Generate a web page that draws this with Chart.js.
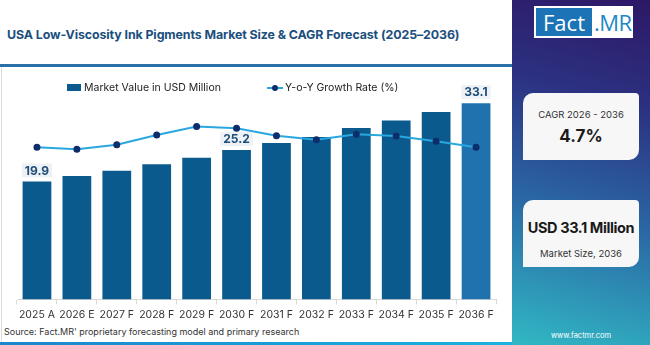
<!DOCTYPE html>
<html>
<head>
<meta charset="utf-8">
<script src="https://cdn.jsdelivr.net/npm/chart.js@4.4.1/dist/chart.umd.min.js"></script>
<style>
  body { margin: 0; width: 650px; height: 345px; overflow: hidden; background: #fff; font-family: Inter, "Open Sans", sans-serif; position: relative; }
  .title { position: absolute; left: 7px; top: 27px; font-size: 12.4px; font-weight: 700; color: #1b4f7e; letter-spacing: -0.1px; white-space: nowrap; }
  .rule { position: absolute; left: 0; top: 64px; width: 512px; height: 3px; background: #2a6fa8; }
  .frame { position: absolute; left: 1px; top: 67px; width: 510px; height: 275px; border-left: 1px solid #dcdcdc; }
  .bottom { position: absolute; left: 0; top: 342px; width: 512px; height: 3px; background: linear-gradient(90deg, #1b86cc, #1bb3dc); }
  #wrap { position: absolute; left: 0; top: 70px; width: 512px; height: 255px; }
  .legend { position: absolute; top: 81px; font-size: 10.5px; color: #222; display: flex; align-items: center; }
  .legend .box { width: 14px; height: 7px; background: #0b5a8e; margin-right: 3px; }
  .legend .ln { width: 16px; height: 2px; background: #29a8e0; margin-right: 2px; position: relative; }
  .legend .ln::after { content: ""; position: absolute; left: 5px; top: -2px; width: 6px; height: 6px; border-radius: 50%; background: #0d2d6b; }
  .source { position: absolute; left: 4px; top: 326px; font-size: 9px; color: #333; }
  .side { position: absolute; left: 512px; top: 0; width: 138px; height: 345px; background: linear-gradient(195deg, #2d1866 0%, #2c3080 28%, #2a66a4 60%, #31b8c4 100%); }
  .logo { position: absolute; left: 22px; top: 6px; width: 99px; height: 32px; background: #fff; }
  .logo .f { position: absolute; left: 2px; top: 2px; width: 56px; height: 28px; background: #1c74b6; color: #fff; font-size: 22px; line-height: 28px; text-align: center; font-family: "Open Sans", sans-serif; }
  .logo .m { position: absolute; left: 60px; top: 2px; height: 28px; color: #1e88c8; font-size: 22px; line-height: 28px; font-family: "Open Sans", sans-serif; letter-spacing: -0.5px; }
  .card { position: absolute; left: 11px; width: 116px; background: #f7f7f8; border-radius: 10px 4px 10px 0; text-align: center; color: #222; white-space: nowrap; }
  .c1 { top: 93px; height: 67px; }
  .c2 { top: 200px; height: 67px; }
  .small { font-size: 9.5px; color: #333; }
  .big { font-weight: 700; color: #1a1a1a; }
  .www { position: absolute; left: 0; width: 138px; top: 331px; text-align: center; font-size: 7.5px; color: #fff; }
</style>
</head>
<body>
<div class="title">USA Low-Viscosity Ink Pigments Market Size &amp; CAGR Forecast (2025–2036)</div>
<div class="rule"></div>
<div class="frame"></div>
<div id="wrap"><canvas id="chart"></canvas></div>
<div class="legend" style="left:67px"><span class="box"></span>Market Value in USD Million</div>
<div class="legend" style="left:267px"><span class="ln"></span>Y-o-Y Growth Rate (%)</div>
<div class="source">Source: Fact.MR' proprietary forecasting model and primary research</div>
<div class="bottom"></div>
<div class="side">
  <div class="logo"><div class="f">Fact</div><div class="m">.MR</div></div>
  <div class="card c1">
    <div class="small" style="margin-top:16px">CAGR 2026 - 2036</div>
    <div class="big" style="font-size:17px;margin-top:6px">4.7%</div>
  </div>
  <div class="card c2">
    <div class="big" style="font-size:14.5px;margin-top:19px;letter-spacing:-0.4px">USD 33.1 Million</div>
    <div class="small" style="margin-top:12px">Market Size, 2036</div>
  </div>
  <div class="www">www.factmr.com</div>
</div>

<script>
    // Data
    const years = ['2025 A', '2026 E', '2027 F', '2028 F', '2029 F', '2030 F', '2031 F', '2032 F', '2033 F', '2034 F', '2035 F', '2036 F'];
    const marketValue = [19.9, 20.8, 21.7, 22.8, 23.9, 25.2, 26.4, 27.4, 28.9, 30.2, 31.6, 33.1];
    const growthRate = [4.2, 4.12, 4.29, 4.67, 5.0, 4.93, 4.64, 4.49, 4.7, 4.63, 4.43, 4.2];
    const labelledBars = [0, 5, 11];

    const barColors = marketValue.map((v, i) => i === marketValue.length - 1 ? '#1f72ae' : '#0b5a8e');

    // value tags above selected bars
    const barTags = {
        id: 'barTags',
        afterDatasetsDraw(chart) {
            const ctx = chart.ctx;
            const meta = chart.getDatasetMeta(1);
            ctx.save();
            ctx.font = 'bold 12px Inter, sans-serif';
            ctx.textAlign = 'center';
            ctx.textBaseline = 'middle';
            labelledBars.forEach(i => {
                const bar = meta.data[i];
                const txt = marketValue[i].toFixed(1);
                const w = ctx.measureText(txt).width + 6;
                const cy = bar.y - 11;
                ctx.fillStyle = '#eef1f5';
                ctx.fillRect(bar.x - w / 2, cy - 7, w, 14);
                ctx.fillStyle = '#1f4e79';
                ctx.fillText(txt, bar.x, cy + 0.5);
            });
            ctx.restore();
        }
    };

    const ctx = document.getElementById('chart').getContext('2d');
    new Chart(ctx, {
        data: {
            labels: years,
            datasets: [{
                type: 'line',
                label: 'Y-o-Y Growth Rate (%)',
                data: growthRate,
                yAxisID: 'y1',
                borderColor: '#29a8e0',
                borderWidth: 2,
                pointBackgroundColor: '#0d2d6b',
                pointBorderColor: '#0d2d6b',
                pointRadius: 2.5,
                tension: 0,
                order: 0
            }, {
                type: 'bar',
                label: 'Market Value in USD Million',
                data: marketValue,
                yAxisID: 'y',
                backgroundColor: barColors,
                barPercentage: 0.72,
                categoryPercentage: 1,
                order: 1
            }]
        },
        options: {
            responsive: true,
            maintainAspectRatio: false,
            animation: false,
            layout: { padding: { left: 17, right: 16, top: 16, bottom: 0 } },
            plugins: { legend: { display: false }, tooltip: { enabled: false } },
            scales: {
                x: {
                    grid: { display: true, drawOnChartArea: false, offset: true, tickLength: 5, color: '#d9d9d9' },
                    border: { color: '#d9d9d9' },
                    ticks: { color: '#333', font: { family: 'Inter, sans-serif', size: 10.5 }, padding: 4, maxRotation: 0 }
                },
                y: { display: false, min: 0, max: 36 },
                y1: { display: false, min: -1.7, max: 6.57 }
            }
        },
        plugins: [barTags]
    });
</script>
</body>
</html>
